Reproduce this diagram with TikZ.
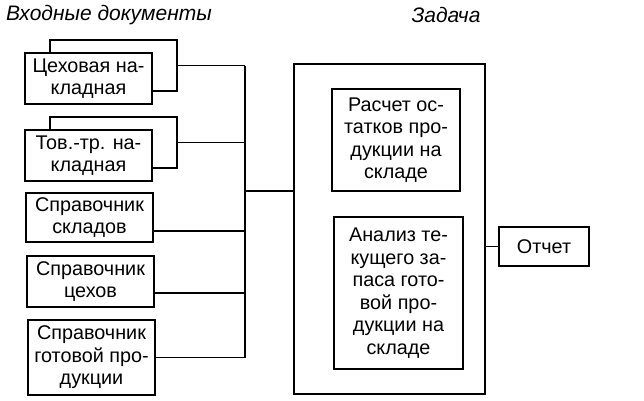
\documentclass[tikz,border=0pt]{standalone}
\usepackage{fontspec}
\setmainfont{Liberation Sans}
\begin{document}
\begin{tikzpicture}[x=1pt,y=-1pt,line width=1.3pt,
  box/.style={draw,fill=white,inner sep=0pt,align=center,
    font=\fontsize{19.8}{22.5}\selectfont},
  ttl/.style={font=\fontsize{21}{24}\selectfont\itshape}]
\useasboundingbox (0,0) rectangle (644,400);
% titles
\node[ttl] (t1) at (109,15) {Входные документы};
\node[ttl] (t2) at (446,15) {Задача};
% input documents
\node[box,minimum width=127pt,minimum height=51pt] (b1) at (113.5,65.5) {};
\node[box,minimum width=127pt,minimum height=51pt] (f1) at (88.5,78.5) {Цеховая на-\\кладная};
\node[box,minimum width=127pt,minimum height=51pt] (b2) at (113.5,142.5) {};
\node[box,minimum width=127pt,minimum height=51pt] (f2) at (88.5,155.5) {Тов.-тр. на-\\кладная};
\node[box,minimum width=127pt,minimum height=49pt] (f3) at (89.5,217.5) {Справочник\\складов};
\node[box,minimum width=127pt,minimum height=51pt] (f4) at (90.5,281.5) {Справочник\\цехов};
\node[box,minimum width=127pt,minimum height=75pt] (f5) at (91.5,357.5) {Справочник\\готовой про-\\дукции};
% task
\node[box,minimum width=191pt,minimum height=330pt] (big) at (389.5,229) {};
\node[box,minimum width=128pt,minimum height=102pt] (i1) at (396,140) {Расчет ос-\\татков про-\\дукции на\\складе};
\node[box,minimum width=129pt,minimum height=152pt] (i2) at (398.5,293) {Анализ те-\\кущего за-\\паса гото-\\вой про-\\дукции на\\складе};
\node[box,minimum width=90pt,minimum height=39pt] (rep) at (544,246.5) {Отчет};
% bus
\coordinate (bustop) at (245,65.5);
\coordinate (busbot) at (245,357.5);
\coordinate (busmid) at (245,191);
\draw (bustop) -- (busbot);
\draw (b1.east) -- (b1.east -| bustop);
\draw (b2.east) -- (b2.east -| bustop);
\draw ([yshift=-13.5pt]f3.east) -- ([yshift=-13.5pt]f3.east -| bustop);
\draw ([yshift=-11.5pt]f4.east) -- ([yshift=-11.5pt]f4.east -| bustop);
\draw (f5.east) -- (f5.east -| bustop);
\draw (busmid) -- (busmid -| big.west);
\draw (big.east |- rep.west) -- (rep.west);
\end{tikzpicture}
\end{document}
